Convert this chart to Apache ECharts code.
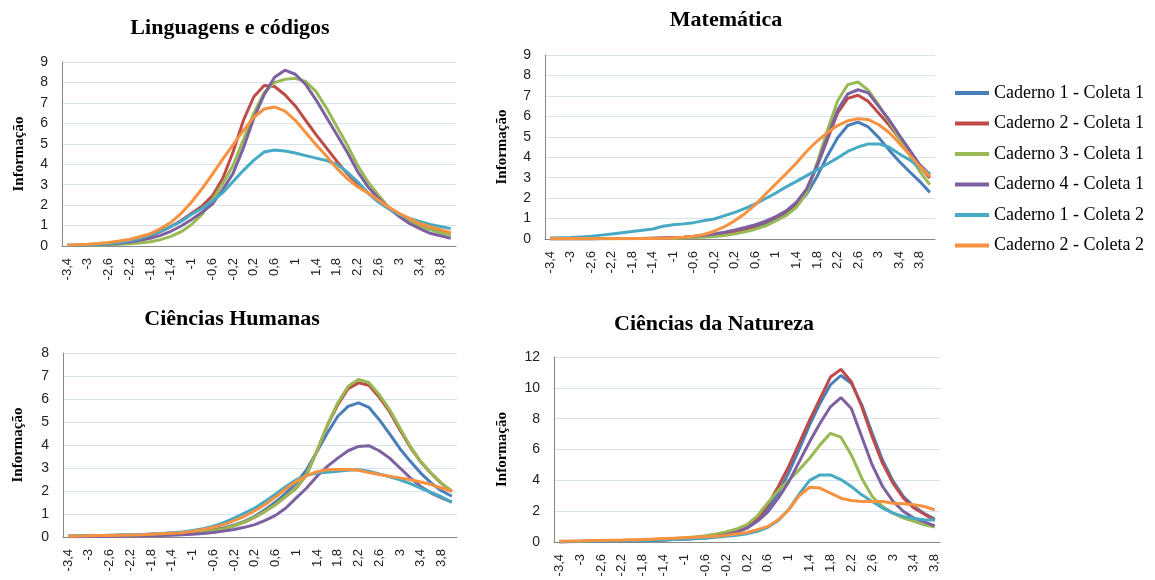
<!DOCTYPE html>
<html><head><meta charset="utf-8">
<script src="https://cdn.jsdelivr.net/npm/echarts@6.0.0/dist/echarts.min.js"></script>
<style>html,body{margin:0;padding:0;background:#fff}#c{width:1155px;height:580px}</style>
</head><body><div id="c"></div>
<script>
// ---- categories (theta) ----
const cats38 = ["-3,4","-3,2","-3","-2,8","-2,6","-2,4","-2,2","-2","-1,8","-1,6","-1,4","-1,2","-1","-0,8","-0,6","-0,4","-0,2","0","0,2","0,4","0,6","0,8","1","1,2","1,4","1,6","1,8","2","2,2","2,4","2,6","2,8","3","3,2","3,4","3,6","3,8","4"];
const cats37 = ["-3,4","-3,2","-3","-2,8","-2,6","-2,4","-2,2","-2","-1,8","-1,6","-1,4","-1,2","-1","-0,8","-0,6","-0,4","-0,2","0","0,2","0,4","0,6","0,8","1","1,2","1,4","1,6","1,8","2","2,2","2,4","2,6","2,8","3","3,2","3,4","3,6","3,8"];

const seriesNames = ["Caderno 1 - Coleta 1","Caderno 2 - Coleta 1","Caderno 3 - Coleta 1","Caderno 4 - Coleta 1","Caderno 1 - Coleta 2","Caderno 2 - Coleta 2"];
const panelTitles = ["Linguagens e códigos","Matemática","Ciências Humanas","Ciências da Natureza"];
const yAxisName = "Informação";

// ---- Linguagens e códigos ----
const lingC2C1 = [0.03,0.04,0.05,0.07,0.1,0.16,0.25,0.36,0.5,0.7,0.95,1.25,1.6,1.95,2.45,3.3,4.6,6.15,7.3,7.85,7.8,7.4,6.85,6.15,5.45,4.8,4.15,3.55,3.05,2.6,2.2,1.85,1.52,1.25,1.02,0.85,0.7,0.58];
const lingC3C1 = [0.02,0.02,0.03,0.04,0.06,0.08,0.11,0.15,0.21,0.31,0.47,0.7,1.05,1.55,2.25,3.05,3.95,5.2,6.5,7.5,8.0,8.15,8.2,8.05,7.55,6.75,5.85,4.95,3.95,3.15,2.5,1.9,1.5,1.2,0.95,0.8,0.65,0.55];
const lingC4C1 = [0.03,0.04,0.05,0.07,0.1,0.14,0.2,0.28,0.38,0.52,0.72,0.98,1.3,1.65,2.05,2.75,3.55,4.8,6.25,7.4,8.25,8.6,8.4,7.9,7.15,6.3,5.45,4.6,3.65,2.9,2.35,1.85,1.45,1.1,0.85,0.62,0.5,0.38];
const lingC1C2 = [0.04,0.05,0.06,0.08,0.11,0.17,0.26,0.37,0.52,0.72,0.95,1.2,1.55,1.85,2.2,2.6,3.15,3.7,4.2,4.6,4.7,4.65,4.55,4.42,4.3,4.18,4.0,3.62,3.15,2.6,2.15,1.82,1.55,1.35,1.2,1.05,0.95,0.85];
const lingC2C2 = [0.05,0.06,0.08,0.12,0.17,0.24,0.32,0.45,0.6,0.85,1.15,1.6,2.15,2.8,3.5,4.25,4.95,5.65,6.3,6.7,6.8,6.6,6.15,5.55,4.95,4.4,3.8,3.3,2.9,2.6,2.25,1.9,1.6,1.35,1.1,0.95,0.8,0.65];

// ---- Matemática ----
const matC1C1 = [0.01,0.01,0.01,0.01,0.01,0.01,0.02,0.02,0.02,0.03,0.03,0.04,0.05,0.07,0.1,0.14,0.19,0.26,0.35,0.46,0.6,0.78,1.0,1.28,1.65,2.2,3.05,4.05,4.94,5.55,5.72,5.48,4.97,4.37,3.8,3.3,2.82,2.28];
const matC2C1 = [0.01,0.01,0.01,0.01,0.01,0.02,0.02,0.02,0.03,0.03,0.04,0.05,0.06,0.08,0.11,0.15,0.2,0.28,0.38,0.5,0.65,0.84,1.07,1.35,1.75,2.4,3.55,4.85,6.15,6.88,7.03,6.73,6.16,5.59,4.94,4.21,3.55,2.98];
const matC3C1 = [0.01,0.01,0.01,0.01,0.01,0.01,0.01,0.01,0.01,0.02,0.02,0.02,0.03,0.05,0.07,0.09,0.12,0.17,0.25,0.35,0.48,0.64,0.88,1.15,1.55,2.25,3.7,5.3,6.75,7.55,7.68,7.27,6.57,5.76,4.94,4.13,3.31,2.66];
const matC4C1 = [0.01,0.01,0.01,0.01,0.01,0.02,0.02,0.02,0.03,0.03,0.04,0.05,0.07,0.09,0.13,0.18,0.24,0.33,0.44,0.56,0.7,0.87,1.1,1.38,1.8,2.45,3.6,4.95,6.3,7.1,7.3,7.15,6.5,5.85,5.1,4.37,3.64,3.15];
const matC1C2 = [0.05,0.06,0.07,0.1,0.13,0.19,0.25,0.31,0.37,0.43,0.49,0.62,0.7,0.74,0.8,0.9,0.98,1.14,1.3,1.5,1.72,1.98,2.25,2.55,2.82,3.1,3.39,3.67,3.96,4.28,4.5,4.65,4.65,4.5,4.17,3.88,3.5,3.2];
const matC2C2 = [0.02,0.02,0.02,0.02,0.02,0.02,0.02,0.02,0.02,0.03,0.03,0.04,0.06,0.09,0.14,0.22,0.38,0.6,0.9,1.25,1.68,2.2,2.7,3.2,3.72,4.29,4.78,5.2,5.55,5.78,5.88,5.84,5.6,5.22,4.7,4.13,3.55,3.06];

// ---- Ciências Humanas ----
const chC1C1 = [0.03,0.04,0.05,0.06,0.07,0.08,0.09,0.1,0.12,0.14,0.17,0.2,0.24,0.28,0.32,0.39,0.52,0.68,0.9,1.19,1.52,1.91,2.35,2.93,3.72,4.52,5.25,5.68,5.83,5.64,5.1,4.48,3.84,3.29,2.78,2.35,2.01,1.77];
const chC2C1 = [0.02,0.03,0.03,0.04,0.05,0.06,0.07,0.08,0.1,0.12,0.14,0.17,0.21,0.24,0.28,0.36,0.49,0.65,0.86,1.12,1.41,1.77,2.13,2.71,3.75,4.85,5.75,6.45,6.7,6.6,6.08,5.45,4.65,3.9,3.27,2.76,2.33,1.98];
const chC3C1 = [0.02,0.03,0.03,0.04,0.05,0.06,0.07,0.08,0.1,0.12,0.14,0.17,0.21,0.24,0.28,0.36,0.49,0.65,0.86,1.12,1.41,1.77,2.13,2.75,3.75,4.88,5.83,6.55,6.85,6.72,6.19,5.54,4.74,3.94,3.29,2.78,2.35,1.99];
const chC4C1 = [0.01,0.01,0.02,0.02,0.03,0.03,0.04,0.05,0.06,0.07,0.08,0.1,0.12,0.15,0.2,0.26,0.33,0.42,0.54,0.72,0.94,1.26,1.7,2.13,2.64,3.07,3.43,3.75,3.94,3.97,3.75,3.43,3.0,2.57,2.2,1.91,1.7,1.52];
const chC1C2 = [0.04,0.05,0.06,0.07,0.08,0.09,0.1,0.11,0.13,0.15,0.18,0.22,0.28,0.36,0.47,0.62,0.82,1.04,1.26,1.55,1.87,2.2,2.49,2.68,2.78,2.82,2.86,2.9,2.93,2.86,2.74,2.62,2.49,2.32,2.12,1.94,1.75,1.52];
const chC2C2 = [0.03,0.04,0.05,0.06,0.07,0.08,0.09,0.1,0.12,0.14,0.16,0.19,0.25,0.33,0.42,0.54,0.71,0.9,1.14,1.41,1.74,2.1,2.42,2.67,2.84,2.92,2.93,2.93,2.9,2.8,2.72,2.64,2.57,2.49,2.39,2.28,2.13,1.99];

// ---- Ciências da Natureza ----
const cnC1C1 = [0.02,0.03,0.04,0.05,0.06,0.07,0.08,0.09,0.1,0.12,0.14,0.17,0.2,0.24,0.3,0.4,0.52,0.7,1.0,1.5,2.2,3.17,4.5,6.0,7.6,9.0,10.2,10.8,10.3,8.9,7.05,5.3,3.95,2.95,2.3,1.85,1.48];
const cnC2C1 = [0.02,0.03,0.04,0.05,0.06,0.07,0.08,0.09,0.11,0.13,0.15,0.18,0.21,0.26,0.32,0.41,0.52,0.69,1.06,1.55,2.4,3.6,4.9,6.4,7.9,9.3,10.7,11.2,10.4,8.77,6.83,5.1,3.8,2.84,2.2,1.8,1.4];
const cnC3C1 = [0.02,0.03,0.04,0.05,0.06,0.07,0.08,0.1,0.12,0.15,0.18,0.22,0.27,0.33,0.4,0.52,0.65,0.84,1.12,1.7,2.55,3.35,4.0,4.68,5.43,6.3,7.05,6.8,5.65,4.14,2.95,2.3,1.87,1.55,1.34,1.12,0.97];
const cnC4C1 = [0.01,0.02,0.03,0.04,0.05,0.06,0.07,0.08,0.09,0.11,0.13,0.16,0.19,0.23,0.28,0.36,0.47,0.62,0.9,1.34,1.95,2.84,3.9,5.2,6.5,7.7,8.77,9.37,8.66,6.83,5.0,3.6,2.63,1.98,1.55,1.3,1.05];
const cnC1C2 = [0.02,0.03,0.04,0.05,0.06,0.07,0.08,0.09,0.1,0.12,0.14,0.16,0.18,0.21,0.25,0.3,0.37,0.43,0.54,0.69,0.95,1.4,2.1,3.1,4.0,4.35,4.35,4.05,3.6,3.06,2.63,2.2,1.87,1.66,1.52,1.44,1.42];
const cnC2C2 = [0.05,0.06,0.07,0.09,0.1,0.12,0.13,0.15,0.17,0.19,0.22,0.25,0.28,0.31,0.34,0.37,0.43,0.52,0.62,0.8,1.01,1.44,2.09,3.0,3.55,3.5,3.17,2.84,2.69,2.63,2.63,2.63,2.52,2.48,2.41,2.3,2.09];

const colors = ["#4A7EBB","#BE4B48","#98B954","#7D60A0","#46AAC5","#F69240"];

const panels = [
  {cats: cats38, yMax: 9, yInt: 1, grid: {left: 62, top: 62, width: 394, height: 184}, title: [230, 17], nameGap: 35,
   data: [null, lingC2C1, lingC3C1, lingC4C1, lingC1C2, lingC2C2]},
  {cats: cats38, yMax: 9, yInt: 1, grid: {left: 545, top: 55, width: 390, height: 184}, title: [726, 9], nameGap: 35,
   data: [matC1C1, matC2C1, matC3C1, matC4C1, matC1C2, matC2C2]},
  {cats: cats38, yMax: 8, yInt: 1, grid: {left: 63, top: 353, width: 394, height: 184}, title: [232, 308], nameGap: 37,
   data: [chC1C1, chC2C1, chC3C1, chC4C1, chC1C2, chC2C2]},
  {cats: cats37, yMax: 12, yInt: 2, grid: {left: 554, top: 357, width: 386, height: 185}, title: [714, 313], nameGap: 44,
   data: [cnC1C1, cnC2C1, cnC3C1, cnC4C1, cnC1C2, cnC2C2]}
];

const serif = "'Liberation Serif','Times New Roman',serif";
const sans = "'Liberation Sans',Arial,sans-serif";

const option = {
  animation: false,
  backgroundColor: '#ffffff',
  color: colors,
  title: panels.map((p, k) => ({
    text: panelTitles[k], left: p.title[0], top: p.title[1], textAlign: 'center', padding: 0,
    textStyle: {fontFamily: serif, fontWeight: 'bold', fontSize: 22, color: '#000'}
  })),
  legend: {
    orient: 'vertical', left: 955, top: 78, itemWidth: 34, itemHeight: 4, itemGap: 10.5,
    icon: 'rect', data: seriesNames, padding: [5, 0, 5, 0],
    textStyle: {fontFamily: serif, fontSize: 18, color: '#000', lineHeight: 20}
  },
  grid: panels.map(p => Object.assign({containLabel: false}, p.grid)),
  xAxis: panels.map((p, k) => ({
    type: 'category', gridIndex: k, data: p.cats, boundaryGap: true,
    axisLine: {lineStyle: {color: '#868686', width: 1}},
    axisTick: {show: false},
    axisLabel: {interval: 1, rotate: 90, margin: 12, fontFamily: sans, fontSize: 13, color: '#222'},
    splitLine: {show: false}
  })),
  yAxis: panels.map((p, k) => ({
    type: 'value', gridIndex: k, min: 0, max: p.yMax, interval: p.yInt,
    name: yAxisName, nameLocation: 'middle', nameGap: p.nameGap,
    nameTextStyle: {fontFamily: serif, fontWeight: 'bold', fontSize: 15, color: '#000'},
    axisLine: {show: true, lineStyle: {color: '#868686', width: 1}},
    axisTick: {show: false},
    axisLabel: {margin: 14, fontFamily: sans, fontSize: 14, color: '#222'},
    splitLine: {lineStyle: {color: '#D9E1EF', width: 1}}
  })),
  series: []
};

panels.forEach((p, k) => {
  p.data.forEach((arr, s) => {
    if (!arr) return;
    option.series.push({
      type: 'line', name: seriesNames[s], xAxisIndex: k, yAxisIndex: k,
      data: arr, symbol: 'none', smooth: false,
      lineStyle: {width: 3, color: colors[s]}, itemStyle: {color: colors[s]}
    });
  });
});

const chart = echarts.init(document.getElementById('c'), null, {renderer: 'canvas'});
chart.setOption(option);
</script></body></html>
